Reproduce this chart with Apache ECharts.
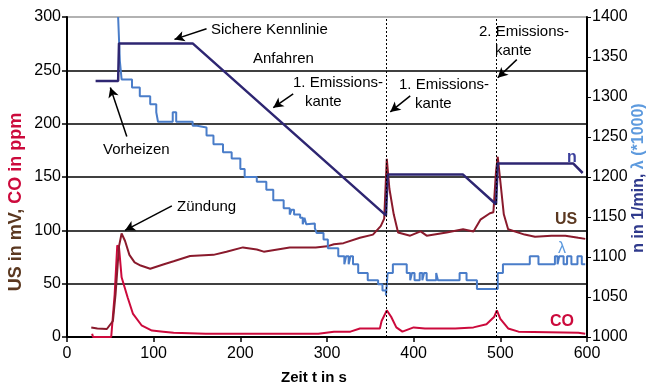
<!DOCTYPE html>
<html>
<head>
<meta charset="utf-8">
<script src="https://cdn.jsdelivr.net/npm/echarts@6/dist/echarts.min.js"></script>
<style>
  html, body { margin: 0; padding: 0; background: #fff; }
  #chart { width: 649px; height: 390px; }
</style>
</head>
<body>
<div id="chart"></div>
<script>
// Zeit t in s
const xTicks = [0, 100, 200, 300, 400, 500, 600]

// Drehzahl n in 1/min (rechte Achse)
const nData = [
  [33, 1320], [59, 1320], [60, 1367], [145, 1367], [368, 1152], [370, 1203],
  [457, 1203], [495, 1166], [497, 1217], [584, 1217], [595, 1205]
]

// Lambda * 1000 (rechte Achse), Treppenstufen
const lambdaData = [
  [59, 1400], [61, 1345], [63, 1322], [75, 1312], [84, 1301], [96, 1291], [103, 1281],
  [105, 1269], [122, 1281], [126, 1269], [145, 1264], [150, 1262], [161, 1252],
  [169, 1241], [180, 1231], [190, 1223], [200, 1210], [205, 1200], [219, 1194],
  [230, 1184], [238, 1171], [250, 1161], [257, 1153], [259, 1159], [262, 1153],
  [269, 1149], [272, 1141], [274, 1149], [276, 1141], [278, 1142], [286, 1136],
  [288, 1130], [296, 1122], [301, 1111], [313, 1101], [320, 1091], [322, 1101],
  [325, 1091], [327, 1101], [330, 1091], [336, 1080], [347, 1071], [359, 1066],
  [364, 1058], [368, 1052], [370, 1080], [376, 1091], [392, 1080], [396, 1071],
  [398, 1080], [401, 1071], [407, 1080], [410, 1071], [412, 1080], [415, 1071],
  [423, 1071], [426, 1080], [428, 1071], [453, 1080], [461, 1071], [473, 1060],
  [494, 1060], [497, 1080], [503, 1091], [534, 1101], [544, 1091], [563, 1101],
  [566, 1091], [568, 1101], [573, 1091], [577, 1101], [582, 1091], [589, 1101],
  [594, 1091], [598, 1091]
]

// Sondenspannung US in mV (linke Achse)
const usData = [
  [28, 9], [35, 8], [46, 7.5], [53, 15], [56, 40], [60, 85], [63, 97], [65, 96],
  [67, 90], [72, 77], [78, 70], [85, 67], [96, 64], [111, 68], [123, 71], [142, 76],
  [169, 77], [184, 80], [203, 84], [219, 82], [227, 80], [257, 84], [287, 84],
  [300, 85], [308, 87], [319, 88], [338, 93], [353, 96], [362, 104], [366, 111],
  [369, 167], [372, 139], [377, 115], [382, 98], [396, 95], [408, 99], [415, 95],
  [438, 98], [457, 101], [469, 99], [477, 110], [488, 116], [492, 117], [495, 155],
  [497, 169], [500, 146], [504, 115], [509, 101], [528, 96], [540, 94], [559, 95],
  [575, 95], [590, 93], [598, 92]
]

// CO in ppm (linke Achse)
const coData = [
  [29, 3], [30, 0], [51, 0], [55, 40], [58, 86], [60, 84], [63, 56], [70, 37],
  [76, 22], [86, 11], [98, 6], [111, 5], [123, 4], [160, 3], [290, 3], [308, 5],
  [327, 5], [338, 8], [361, 8], [363, 15], [369, 25], [374, 19], [380, 9], [387, 5],
  [400, 9], [413, 8], [448, 8], [469, 9], [484, 12], [493, 19], [496, 25], [500, 17],
  [509, 8], [521, 5], [590, 4], [598, 3]
]

// Pfeile: [von, nach] in Datenkoordinaten (t, linke Achse)
const arrows = [
  [[161, 289], [124, 279]],
  [[69, 188], [50, 234]],
  [[261, 228], [238, 215]],
  [[121, 123], [67, 100]],
  [[396, 226], [373, 211]],
  [[519, 260], [497, 243]]
]
const edges = [368, 495]

const fontFam = 'Liberation Sans, Arial, sans-serif'
const chart = echarts.init(document.getElementById('chart'))

const txt = (x, y, text, extra) => ({
  type: 'text', x: x, y: y, silent: true,
  style: Object.assign({ text: text, fill: '#000', font: '15px ' + fontFam, verticalAlign: 'middle' }, extra || {})
})

const option = {
  animation: false,
  backgroundColor: '#fff',
  grid: { left: 67, right: 62, top: 17, bottom: 50 },
  xAxis: {
    type: 'value', min: 0, max: 600, interval: 100,
    name: 'Zeit t in s', nameLocation: 'middle', nameGap: 33,
    nameTextStyle: { fontFamily: fontFam, fontSize: 15, fontWeight: 'bold', color: '#000', padding: [0, 26, 0, 0] },
    axisLine: { lineStyle: { color: '#000', width: 2 } },
    axisTick: { length: 5, lineStyle: { color: '#000', width: 1.5 } },
    axisLabel: { color: '#000', fontFamily: fontFam, fontSize: 16, margin: 9 },
    splitLine: { show: false }
  },
  yAxis: [
    {
      type: 'value', min: 0, max: 300, interval: 50,
      axisLine: { show: true, lineStyle: { color: '#000', width: 2 } },
      axisTick: { show: true, length: 5, lineStyle: { color: '#000', width: 1.5 } },
      axisLabel: { color: '#000', fontFamily: fontFam, fontSize: 16, margin: 6 },
      splitLine: { show: true, lineStyle: { color: ['#000', '#000', '#000', '#000', '#000', '#000', '#999'], width: 1.5 } }
    },
    {
      type: 'value', min: 1000, max: 1400, interval: 50, position: 'right',
      axisLine: { show: true, lineStyle: { color: '#000', width: 2 } },
      axisTick: { show: true, length: 4, lineStyle: { color: '#000', width: 1 } },
      axisLabel: { color: '#000', fontFamily: fontFam, fontSize: 16, margin: 5, formatter: v => String(v) },
      splitLine: { show: false }
    }
  ],
  series: [
    {
      name: 'CO', type: 'line', yAxisIndex: 0, data: coData, symbol: 'none',
      lineStyle: { color: '#cc0a3c', width: 2 },
      markLine: {
        silent: true, animation: false,
        symbol: ['none', 'arrow'], symbolSize: [8, 10],
        label: { show: false },
        lineStyle: { color: '#000', width: 1.5, type: 'solid' },
        data: arrows.map(a => [{ coord: a[0] }, { coord: a[1] }])
      }
    },
    {
      name: 'US', type: 'line', yAxisIndex: 0, data: usData, symbol: 'none',
      lineStyle: { color: '#8a1a2c', width: 2 }
    },
    {
      name: 'lambda', type: 'line', yAxisIndex: 1, data: lambdaData, symbol: 'none', step: 'end',
      lineStyle: { color: '#4a7dc9', width: 2 },
      markLine: {
        silent: true, animation: false, symbol: 'none',
        label: { show: false },
        lineStyle: { color: '#000', width: 1, type: [2, 2] },
        data: edges.map(e => ({ xAxis: e }))
      }
    },
    {
      name: 'n', type: 'line', yAxisIndex: 1, data: nData, symbol: 'none',
      lineStyle: { color: '#2e2672', width: 2.5 }
    }
  ],
  graphic: [
    txt(211, 30, 'Sichere Kennlinie'),
    txt(253, 59, 'Anfahren'),
    txt(293, 83, '1. Emissions-'),
    txt(305, 102, 'kante'),
    txt(399, 85, '1. Emissions-'),
    txt(415, 104, 'kante'),
    txt(479, 32, '2. Emissions-'),
    txt(495, 51, 'kante'),
    txt(103, 150, 'Vorheizen'),
    txt(177, 207, 'Zündung'),
    txt(567, 158, 'n', { fill: '#3b3f9c', font: 'bold 16px ' + fontFam }),
    txt(555, 220, 'US', { fill: '#5b3820', font: 'bold 16px ' + fontFam }),
    txt(558, 249, 'λ', { fill: '#5d9ade', font: '16px ' + fontFam }),
    txt(550, 322, 'CO', { fill: '#cc0a3c', font: 'bold 16px ' + fontFam }),
    {
      type: 'text', x: 16, y: 202, rotation: Math.PI / 2, silent: true,
      style: {
        text: '{a|US in mV, }{b|CO in ppm}', align: 'center', verticalAlign: 'middle',
        rich: {
          a: { fill: '#5b3820', font: 'bold 18px ' + fontFam },
          b: { fill: '#cc0a3c', font: 'bold 18px ' + fontFam }
        }
      }
    },
    {
      type: 'text', x: 639, y: 178, rotation: Math.PI / 2, silent: true,
      style: {
        text: '{a|n in 1/min, }{b|λ (*1000)}', align: 'center', verticalAlign: 'middle',
        rich: {
          a: { fill: '#2f3a8c', font: 'bold 16px ' + fontFam },
          b: { fill: '#5d9ade', font: 'bold 16px ' + fontFam }
        }
      }
    }
  ]
}
chart.setOption(option)
</script>
</body>
</html>
